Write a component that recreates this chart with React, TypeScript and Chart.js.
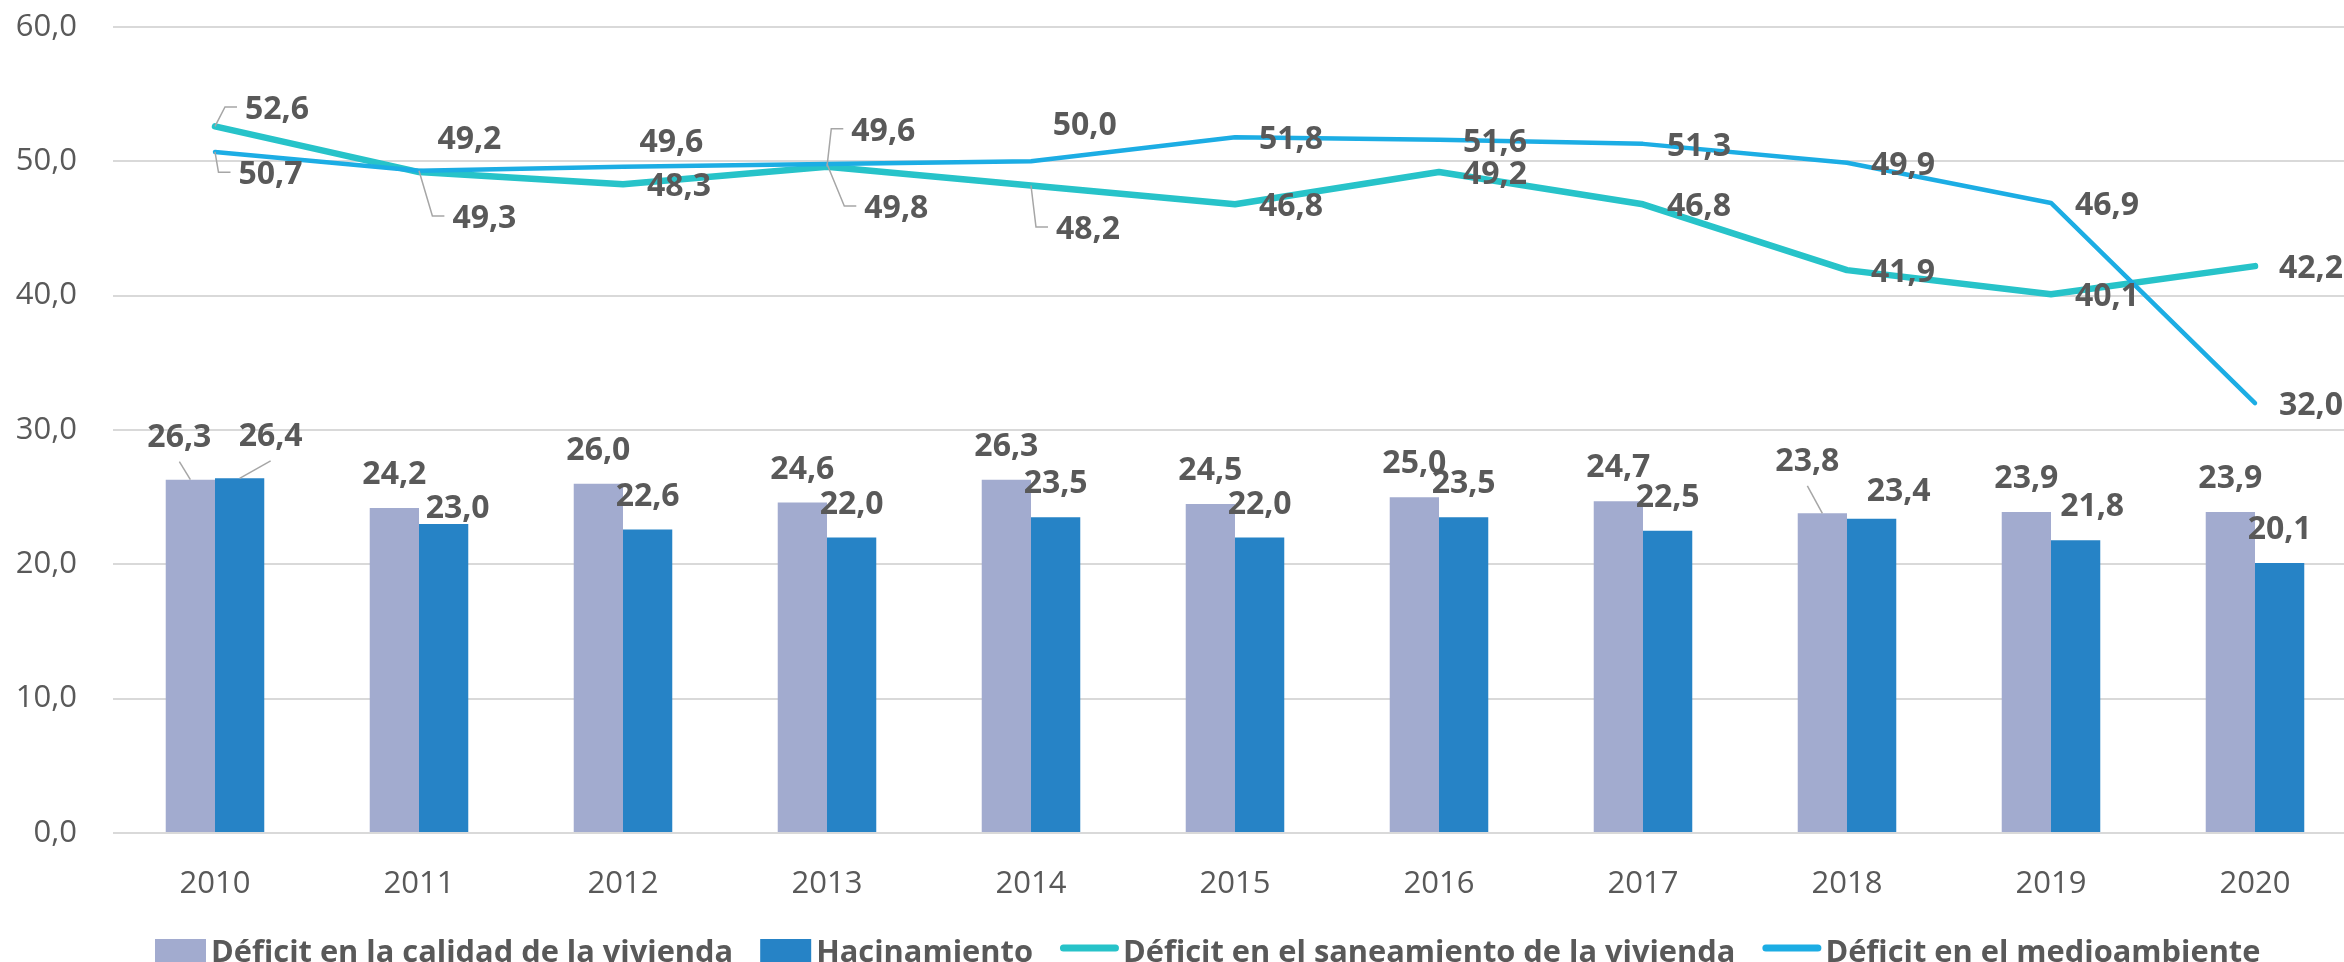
import React, { useEffect, useRef } from "react";
import { Chart, registerables } from "chart.js";

Chart.register(...registerables);

// ---------- data ----------
const years = ["2010", "2011", "2012", "2013", "2014", "2015", "2016", "2017", "2018", "2019", "2020"];
const calidad = [26.3, 24.2, 26.0, 24.6, 26.3, 24.5, 25.0, 24.7, 23.8, 23.9, 23.9];
const hacinamiento = [26.4, 23.0, 22.6, 22.0, 23.5, 22.0, 23.5, 22.5, 23.4, 21.8, 20.1];
const saneamiento = [52.6, 49.2, 48.3, 49.6, 48.2, 46.8, 49.2, 46.8, 41.9, 40.1, 42.2];
const medioambiente = [50.7, 49.3, 49.6, 49.8, 50.0, 51.8, 51.6, 51.3, 49.9, 46.9, 32.0];
const yMin = 0;
const yMax = 60;
const yStep = 10;
const seriesNames = [
  "Déficit en la calidad de la vivienda",
  "Hacinamiento",
  "Déficit en el saneamiento de la vivienda",
  "Déficit en el medioambiente",
];

// ---------- styles ----------
const colors = ["#A2ABCF", "#2683C6", "#27C3C9", "#1CADE4"];
const textColor = "#595959";
const leaderColor = "#A6A6A6";
const fontFamily = '"Open Sans", "Noto Sans", sans-serif';

// label placement tweaks (pixel nudges; [dx, dy, leaderLine])
type Nudge = [number, number, boolean] | null;
const calidadNudge: Nudge[] = [[-11, -9, true], null, null, null, null, null, null, null, [-15, -18.5, true], null, null];
const hacinamientoNudge: Nudge[] = [[31, -8.5, true], [14, 18, false], null, null, null, null, null, null, [27, 6, false], [16.5, 0, false], null];
// line labels: offset of label centre from the point (null => default "right" position)
const saneamientoPos: Nudge[] = [[62, -16.4, true], [50.4, -32.6, false], null, [56.3, -35, true], [57, 44.5, true], null, null, null, null, null, null];
const medioambientePos: Nudge[] = [[55.5, 23.4, true], [65.4, 48.2, true], [48.4, -23.4, false], [69.3, 45, true], [53.7, -35.6, false], null, null, null, null, null, null];

const fmt = (v: number) => Number(v).toFixed(1).replace(".", ",");

const labelPlugin = {
  id: "valueLabels",
  afterDatasetsDraw(chart: any) {
    const ctx = chart.ctx as CanvasRenderingContext2D;
    const nudges = [calidadNudge, hacinamientoNudge, saneamientoPos, medioambientePos];
    ctx.save();
    ctx.font = `700 32px ${fontFamily}`;
    ctx.textAlign = "center";
    ctx.textBaseline = "middle";
    chart.data.datasets.forEach((ds: any, di: number) => {
      const meta = chart.getDatasetMeta(di);
      const cfg = nudges[di];
      meta.data.forEach((el: any, i: number) => {
        const txt = fmt(ds.data[i]);
        const w = ctx.measureText(txt).width;
        const n = cfg[i];
        let cx: number, cy: number;
        ctx.strokeStyle = leaderColor;
        ctx.lineWidth = 1.5;
        if (meta.type === "bar") {
          cx = el.x;
          cy = el.y - 33;
          if (n) {
            cx += n[0];
            cy += n[1];
          }
          if (n && n[2]) {
            ctx.beginPath();
            ctx.moveTo(el.x, el.y);
            ctx.lineTo(cx, cy + 24);
            ctx.stroke();
          }
        } else {
          const d = n ?? [56, 3, false];
          cx = el.x + d[0];
          cy = el.y + d[1];
          if (d[2]) {
            const left = cx - w / 2;
            ctx.beginPath();
            ctx.moveTo(el.x, el.y);
            ctx.lineTo(left - 20, cy - 3);
            ctx.lineTo(left - 8, cy - 3);
            ctx.stroke();
          }
        }
        ctx.fillStyle = textColor;
        ctx.fillText(txt, cx, cy);
      });
    });
    ctx.restore();
  },
  afterDraw(chart: any) {
    const ctx = chart.ctx as CanvasRenderingContext2D;
    ctx.save();
    ctx.font = `700 30.8px ${fontFamily}`;
    ctx.textAlign = "left";
    ctx.textBaseline = "alphabetic";
    let x = 155;
    chart.data.datasets.forEach((ds: any, di: number) => {
      if (ds.type === "bar") {
        ctx.fillStyle = colors[di];
        ctx.fillRect(x, 939, 51, 26);
        x += 51 + 5;
      } else {
        ctx.strokeStyle = colors[di];
        ctx.lineWidth = 7;
        ctx.lineCap = "round";
        ctx.beginPath();
        ctx.moveTo(x + 3.5, 948);
        ctx.lineTo(x + 55.5, 948);
        ctx.stroke();
        x += 59 + 4;
      }
      ctx.fillStyle = textColor;
      ctx.fillText(ds.label, x, 962);
      x += ctx.measureText(ds.label).width + 27;
    });
    ctx.restore();
  },
};

export default function App() {
  const ref = useRef<HTMLCanvasElement | null>(null);

  useEffect(() => {
    if (!ref.current) return;
    const chart = new Chart(ref.current, {
      type: "bar",
      data: {
        labels: years,
        datasets: [
          { type: "bar", label: seriesNames[0], data: calidad, backgroundColor: colors[0], order: 3, categoryPercentage: 0.483, barPercentage: 1 },
          { type: "bar", label: seriesNames[1], data: hacinamiento, backgroundColor: colors[1], order: 3, categoryPercentage: 0.483, barPercentage: 1 },
          { type: "line", label: seriesNames[2], data: saneamiento, borderColor: colors[2], backgroundColor: colors[2], borderWidth: 6.5, pointRadius: 0, tension: 0, borderCapStyle: "round", borderJoinStyle: "round", order: 2 },
          { type: "line", label: seriesNames[3], data: medioambiente, borderColor: colors[3], backgroundColor: colors[3], borderWidth: 4.5, pointRadius: 0, tension: 0, borderCapStyle: "round", borderJoinStyle: "round", order: 1 },
        ] as any,
      },
      options: {
        animation: false,
        responsive: false,
        layout: { padding: { top: 27, right: 5, bottom: 52, left: 0 } },
        plugins: { legend: { display: false }, tooltip: { enabled: false } },
        scales: {
          x: {
            grid: { display: false },
            border: { display: false },
            ticks: { font: { family: fontFamily, size: 31 }, color: textColor, padding: 25, maxRotation: 0 },
            afterFit: (s: any) => {
              s.height = 100;
            },
          },
          y: {
            min: yMin,
            max: yMax,
            ticks: { stepSize: yStep, callback: (v: any) => fmt(v), font: { family: fontFamily, size: 31 }, color: textColor, padding: 36 },
            grid: { color: "#D9D9D9", lineWidth: 2, drawTicks: false },
            border: { display: false },
            afterFit: (s: any) => {
              s.width = 113;
              s.paddingTop = 0;
              s.paddingBottom = 0;
            },
          },
        },
      } as any,
      plugins: [labelPlugin],
    });
    let alive = true;
    (document as any).fonts?.ready?.then(() => {
      if (alive) chart.update();
    });
    return () => {
      alive = false;
      chart.destroy();
    };
  }, []);

  return (
    <div style={{ position: "fixed", left: 0, top: 0, width: 2344, height: 962, overflow: "hidden", background: "#fff" }}>
      <canvas ref={ref} width={2362} height={985} style={{ display: "block" }} />
    </div>
  );
}
